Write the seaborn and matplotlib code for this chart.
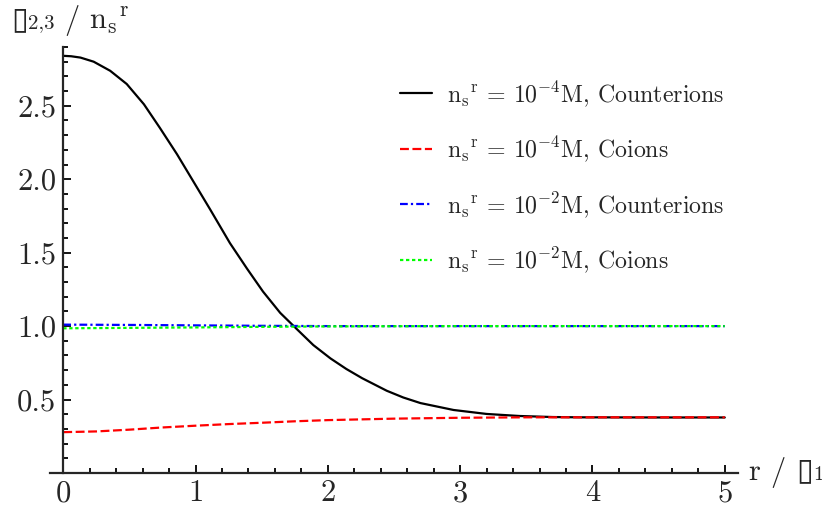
import matplotlib
matplotlib.use("Agg")
import matplotlib.pyplot as plt
from matplotlib.ticker import MultipleLocator
from matplotlib.offsetbox import TextArea, HPacker, AnchoredOffsetbox
import seaborn as sns

# values
r_black = [0, 0.06, 0.13, 0.23, 0.355, 0.48, 0.61, 0.73, 0.86, 0.98, 1.11, 1.26, 1.39, 1.51, 1.64,
           1.765, 1.89, 2.02, 2.14, 2.26, 2.445, 2.57, 2.70, 2.95, 3.20, 3.45, 3.70, 3.90, 4.5, 5.0]
counter_4 = [2.84, 2.837, 2.828, 2.80, 2.738, 2.648, 2.51, 2.35, 2.17, 1.99, 1.795, 1.565, 1.39,
             1.235, 1.09, 0.98, 0.871, 0.78, 0.708, 0.645, 0.56, 0.514, 0.476, 0.429, 0.402, 0.388,
             0.381, 0.379, 0.378, 0.378]

r_red = [0, 0.25, 0.5, 0.75, 1.0, 1.25, 1.5, 1.75, 2.0, 2.5, 3.0, 3.5, 4.0, 5.0]
co_4 = [0.278, 0.283, 0.295, 0.31, 0.322, 0.333, 0.342, 0.352, 0.36, 0.37, 0.376, 0.379, 0.379, 0.379]

r_flat = [0, 0.5, 1.0, 1.5, 2.0, 3.0, 4.0, 5.0]
counter_2 = [1.01, 1.008, 1.005, 1.002, 1.0, 1.0, 1.0, 1.0]
co_2 = [0.985, 0.988, 0.991, 0.995, 0.998, 1.0, 1.0, 1.0]

ns = r"$\mathrm{n_s}^\mathrm{r}$"
labels = [ns + r" = 10$^{-4}$M, Counterions",
          ns + r" = 10$^{-4}$M, Coions",
          ns + r" = 10$^{-2}$M, Counterions",
          ns + r" = 10$^{-2}$M, Coions"]

sns.set_style("ticks")
plt.rcParams["font.family"] = ["cmr10", "DejaVu Sans"]
plt.rcParams["mathtext.fontset"] = "cm"
plt.rcParams["axes.formatter.use_mathtext"] = True

fig = plt.figure(figsize=(8.22, 5.08), dpi=100)
ax = fig.add_axes([50 / 822, 35 / 508, 688 / 822, 426 / 508])

lw = 1.6
sns.lineplot(x=r_black, y=counter_4, color="black", lw=lw, ax=ax, label=labels[0])
sns.lineplot(x=r_red, y=co_4, color=(1, 0, 0), lw=lw, linestyle=(0, (4.0, 1.6)), ax=ax, label=labels[1])
sns.lineplot(x=r_flat, y=counter_2, color=(0, 0, 1), lw=lw, linestyle=(0, (3.5, 1.4, 1.0, 1.4)), ax=ax, label=labels[2])
sns.lineplot(x=r_flat, y=co_2, color=(0, 1, 0), lw=lw, linestyle=(0, (1.5, 1.2)), ax=ax, label=labels[3])

ax.set_xlim(-0.1, 5.1)
ax.set_ylim(0, 2.9)
ax.spines["top"].set_visible(False)
ax.spines["right"].set_visible(False)
ax.spines["left"].set_position(("data", 0))
ax.spines["left"].set_linewidth(1.6)
ax.spines["bottom"].set_linewidth(1.6)

ax.set_xticks([0, 1, 2, 3, 4, 5])
ax.set_xticklabels(["0", "1", "2", "3", "4", "5"])
ax.xaxis.set_minor_locator(MultipleLocator(0.2))
ax.set_yticks([0.5, 1.0, 1.5, 2.0, 2.5])
ax.set_yticklabels(["0.5", "1.0", "1.5", "2.0", "2.5"])
ax.yaxis.set_minor_locator(MultipleLocator(0.1))
ax.tick_params(which="both", direction="in", width=1.3, labelsize=22, color="black")
ax.tick_params(which="major", length=6, pad=5)
ax.tick_params(which="minor", length=3.5)


def label_box(parts):
    areas = [TextArea(s, textprops=dict(fontsize=fs, family=fam)) for s, fs, fam in parts]
    return HPacker(children=areas, align="baseline", pad=0, sep=0)


ylab = label_box([("\u25af", 22, "DejaVu Sans"), ("2,3", 15, "cmr10"),
                  (" / " + ns, 22, "cmr10")])
fig.add_artist(AnchoredOffsetbox(loc="upper left", child=ylab, pad=0, borderpad=0, frameon=False,
                                 bbox_to_anchor=(11 / 822, 1 - 3 / 508),
                                 bbox_transform=fig.transFigure))

xlab = label_box([("r / ", 22, "cmr10"), ("\u25af", 22, "DejaVu Sans"), ("1", 15, "cmr10")])
fig.add_artist(AnchoredOffsetbox(loc="center left", child=xlab, pad=0, borderpad=0, frameon=False,
                                 bbox_to_anchor=(749 / 822, 1 - 472 / 508),
                                 bbox_transform=fig.transFigure))

ax.legend(loc="upper left", bbox_to_anchor=(0.509, 0.925), frameon=False, fontsize=17.2,
          handlelength=1.35, handletextpad=0.6, labelspacing=1.08, borderpad=0, borderaxespad=0)

fig.savefig("out.png", dpi=100)
